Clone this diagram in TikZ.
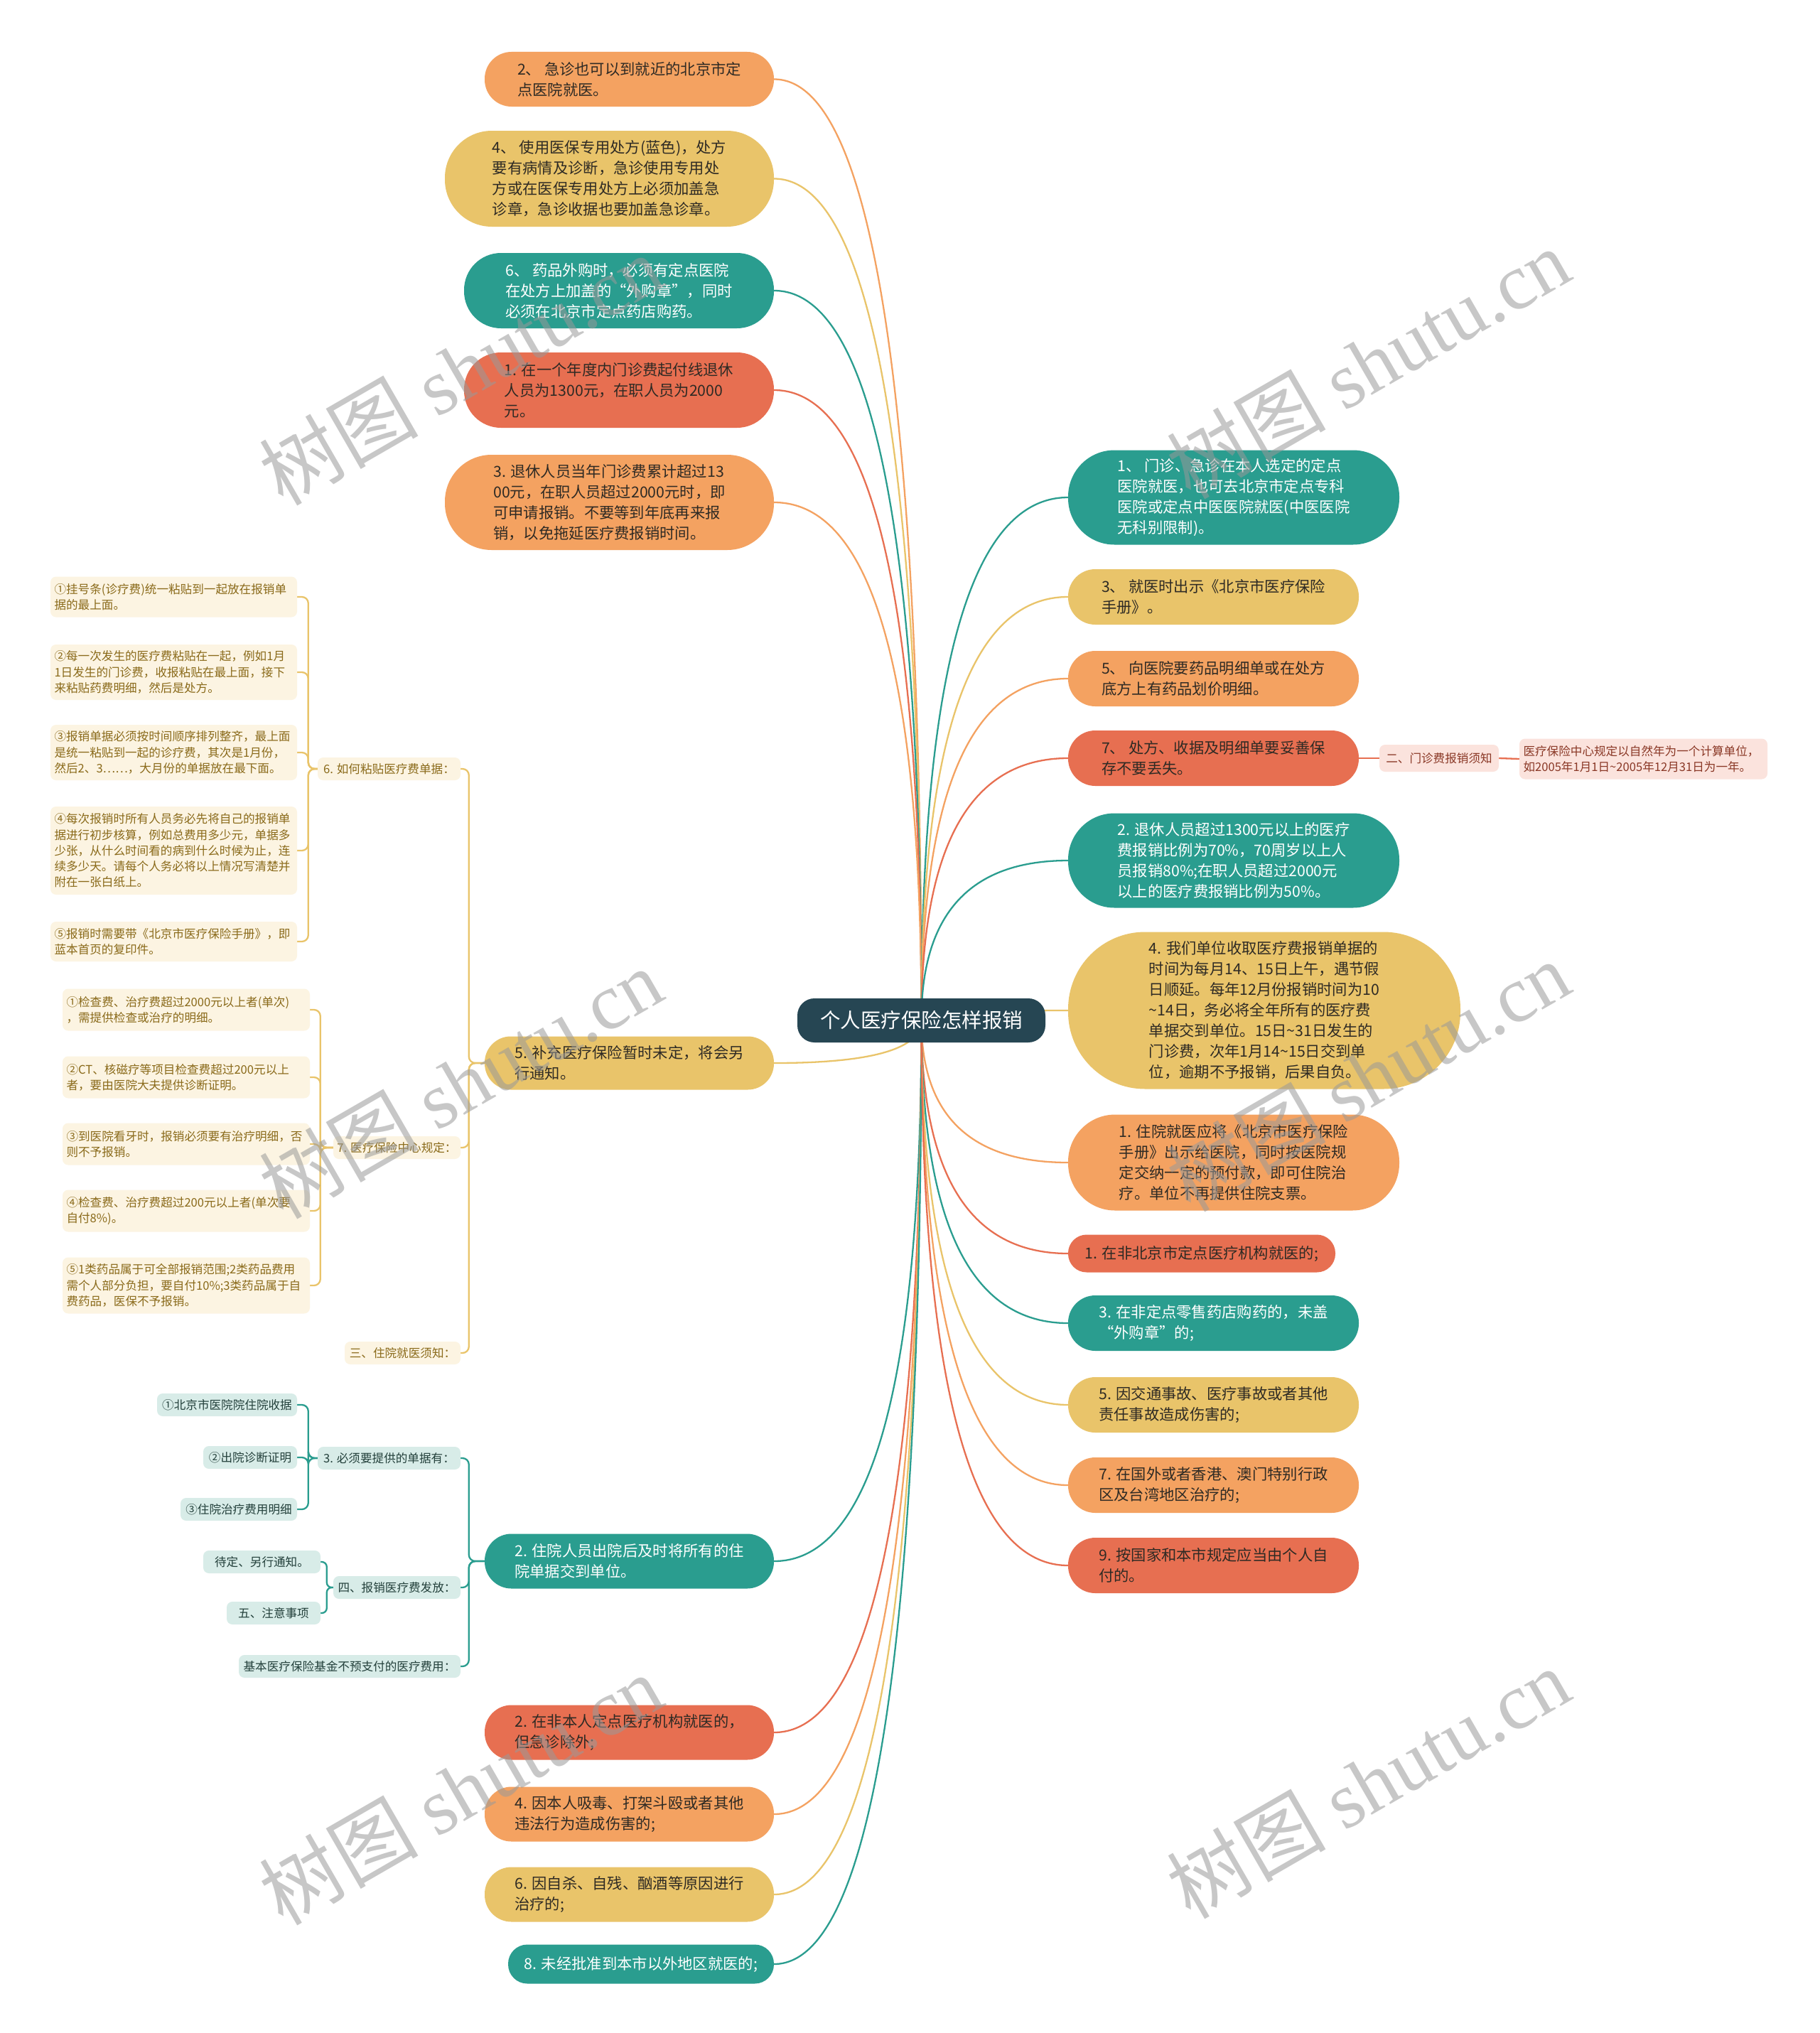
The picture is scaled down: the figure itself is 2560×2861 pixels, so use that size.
\documentclass[tikz,border=0pt]{standalone}
\usepackage{fontspec}
\setmainfont{Noto Sans CJK SC}
\newfontfamily\wmserif{Liberation Serif}
\usetikzlibrary{calc}
\pgfdeclarelayer{bg}
\pgfdeclarelayer{lines}
\pgfsetlayers{bg,lines,main}
\definecolor{cteal}{HTML}{2A9D8F}
\definecolor{cyel}{HTML}{E9C46A}
\definecolor{corg}{HTML}{F4A261}
\definecolor{cred}{HTML}{E76F51}
\definecolor{croot}{HTML}{264653}
\definecolor{ctxt}{HTML}{2E2A24}
\definecolor{cream}{HTML}{FCF4E2}
\definecolor{creamtxt}{HTML}{8A6A1A}
\definecolor{lteal}{HTML}{D8ECE8}
\definecolor{ltealtxt}{HTML}{23403B}
\definecolor{lpink}{HTML}{FBE3DD}
\definecolor{lpinktxt}{HTML}{8A3826}
\tikzset{
  mnode/.style={inner sep=0pt, align=left, text=ctxt, font=\fontsize{21.3}{29}\selectfont},
  ndteal/.style={mnode, fill=cteal, text=white},
  ndyel/.style={mnode, fill=cyel},
  ndorg/.style={mnode, fill=corg},
  ndred/.style={mnode, fill=cred},
  sz/.style 2 args={minimum width=#1, minimum height=#2, rounded corners={#2*0.49}},
  snode/.style={inner sep=0pt, rounded corners=8, font=\fontsize{16.6}{22.3}\selectfont},
  cnode/.style={snode, fill=cream, text=creamtxt},
  tnode/.style={snode, fill=lteal, text=ltealtxt},
  pnode/.style={snode, fill=lpink, text=lpinktxt},
  wbox/.style={align=left, text width=#1, inner xsep=5.5pt, inner ysep=0pt},
  mline/.style={line width=2.3pt, to path={let \p1=(\tikztostart), \p2=(\tikztotarget) in
     .. controls (\x1,{\y1+0.667*(\y2-\y1)}) and ({\x2+0.667*(\x1-\x2)},\y2) .. (\tikztotarget)}},
  subl/.style={line width=2.3pt, rounded corners=9},
  wm/.style={rotate=30, text=black!40, opacity=0.55, font=\fontsize{112}{112}\selectfont}
}
\begin{document}
\begin{tikzpicture}[x=1pt,y=-1pt]
\useasboundingbox (0,0) rectangle (2560,2861);
\begin{pgfonlayer}{bg}
\fill[white] (0,0) rectangle (2560,2861);
\end{pgfonlayer}

% root
\node[fill=croot, text=white, inner sep=0pt, minimum width=349, minimum height=62, rounded corners=24,
      font=\fontsize{28.5}{34}\selectfont] (root) at (1296.5,1436) {个人医疗保险怎样报销};

% left main nodes
\node[ndorg, sz={407}{77}] (L1) at (885.5,111.5) {2、 急诊也可以到就近的北京市定\\点医院就医。};
\node[ndyel, sz={463}{135}] (L2) at (857.5,251.5) {4、 使用医保专用处方(蓝色)，处方\\要有病情及诊断，急诊使用专用处\\方或在医保专用处方上必须加盖急\\诊章，急诊收据也要加盖急诊章。};
\node[ndteal, sz={436}{106}] (L3) at (871,409) {6、 药品外购时，必须有定点医院\\在处方上加盖的“外购章”，同时\\必须在北京市定点药店购药。};
\node[ndred, sz={436}{106}] (L4) at (871,549) {1. 在一个年度内门诊费起付线退休\\人员为1300元，在职人员为2000\\元。};
\node[ndorg, sz={463}{134}] (L5) at (857.5,707) {3. 退休人员当年门诊费累计超过13\\00元，在职人员超过2000元时，即\\可申请报销。不要等到年底再来报\\销，以免拖延医疗费报销时间。};
\node[ndyel, sz={407}{75}] (L6) at (885.5,1496) {5. 补充医疗保险暂时未定，将会另\\行通知。};
\node[ndteal, sz={407}{77}] (L7) at (885.5,2197) {2. 住院人员出院后及时将所有的住\\院单据交到单位。};
\node[ndred, sz={407}{77}] (L8) at (885.5,2438) {2. 在非本人定点医疗机构就医的，\\但急诊除外;};
\node[ndorg, sz={407}{77}] (L9) at (885.5,2553) {4. 因本人吸毒、打架斗殴或者其他\\违法行为造成伤害的;};
\node[ndyel, sz={407}{77}] (L10) at (885.5,2666) {6. 因自杀、自残、酗酒等原因进行\\治疗的;};
\node[ndteal, sz={374}{55}] (L11) at (902,2764) {8. 未经批准到本市以外地区就医的;};

% right main nodes
\node[ndteal, sz={466}{133}] (R1) at (1736,700) {1、 门诊、急诊在本人选定的定点\\医院就医，也可去北京市定点专科\\医院或定点中医医院就医(中医医院\\无科别限制)。};
\node[ndyel, sz={409}{78}] (R2) at (1707.5,840) {3、 就医时出示《北京市医疗保险\\手册》。};
\node[ndorg, sz={409}{78}] (R3) at (1707.5,955) {5、 向医院要药品明细单或在处方\\底方上有药品划价明细。};
\node[ndred, sz={409}{78}] (R4) at (1707.5,1067) {7、 处方、收据及明细单要妥善保\\存不要丢失。};
\node[ndteal, sz={466}{133}] (R5) at (1736,1211) {2. 退休人员超过1300元以上的医疗\\费报销比例为70\%，70周岁以上人\\员报销80\%;在职人员超过2000元\\以上的医疗费报销比例为50\%。};
\node[ndyel, sz={552}{221}] (R6) at (1779,1422) {4. 我们单位收取医疗费报销单据的\\时间为每月14、15日上午，遇节假\\日顺延。每年12月份报销时间为10\\\textasciitilde 14日，务必将全年所有的医疗费\\单据交到单位。15日\textasciitilde 31日发生的\\门诊费，次年1月14\textasciitilde 15日交到单\\位，逾期不予报销，后果自负。};
\node[ndorg, sz={466}{135}] (R7) at (1736,1636) {1. 住院就医应将《北京市医疗保险\\手册》出示给医院，同时按医院规\\定交纳一定的预付款，即可住院治\\疗。单位不再提供住院支票。};
\node[ndred, sz={376}{53}] (R8) at (1691,1764) {1. 在非北京市定点医疗机构就医的;};
\node[ndteal, sz={409}{78}] (R9) at (1707.5,1862) {3. 在非定点零售药店购药的，未盖\\“外购章”的;};
\node[ndyel, sz={409}{78}] (R10) at (1707.5,1977) {5. 因交通事故、医疗事故或者其他\\责任事故造成伤害的;};
\node[ndorg, sz={409}{78}] (R11) at (1707.5,2090) {7. 在国外或者香港、澳门特别行政\\区及台湾地区治疗的;};
\node[ndred, sz={409}{78}] (R12) at (1707.5,2203) {9. 按国家和本市规定应当由个人自\\付的。};

% pink branch
\node[pnode, minimum width=168, minimum height=38] (P1) at (2025,1067) {二、门诊费报销须知};
\node[pnode, wbox=338, minimum height=57] (P2) at (2312.5,1068) {医疗保险中心规定以自然年为一个计算单位，\\如2005年1月1日\textasciitilde 2005年12月31日为一年。};

% cream branch
\node[cnode, minimum width=201, minimum height=32] (S6) at (547.5,1082) {6. 如何粘贴医疗费单据：};
\node[cnode, minimum width=179, minimum height=32] (S7) at (558.5,1615) {7. 医疗保险中心规定：};
\node[cnode, minimum width=163, minimum height=32] (S3) at (566.5,1904) {三、住院就医须知：};
\node[cnode, wbox=336, minimum height=57] (C1) at (244.5,840) {①挂号条(诊疗费)统一粘贴到一起放在报销单\\据的最上面。};
\node[cnode, wbox=336, minimum height=78] (C2) at (244.5,946) {②每一次发生的医疗费粘贴在一起，例如1月\\1日发生的门诊费，收报粘贴在最上面，接下\\来粘贴药费明细，然后是处方。};
\node[cnode, wbox=336, minimum height=78] (C3) at (244.5,1059) {③报销单据必须按时间顺序排列整齐，最上面\\是统一粘贴到一起的诊疗费，其次是1月份，\\然后2、3……，大月份的单据放在最下面。};
\node[cnode, wbox=336, minimum height=124] (C4) at (244.5,1197) {④每次报销时所有人员务必先将自己的报销单\\据进行初步核算，例如总费用多少元，单据多\\少张，从什么时间看的病到什么时候为止，连\\续多少天。请每个人务必将以上情况写清楚并\\附在一张白纸上。};
\node[cnode, wbox=336, minimum height=56] (C5) at (244.5,1325) {⑤报销时需要带《北京市医疗保险手册》，即\\蓝本首页的复印件。};
\node[cnode, wbox=337, minimum height=59] (D1) at (262,1421) {①检查费、治疗费超过2000元以上者(单次)\\，需提供检查或治疗的明细。};
\node[cnode, wbox=337, minimum height=59] (D2) at (262,1516) {②CT、核磁疗等项目检查费超过200元以上\\者，要由医院大夫提供诊断证明。};
\node[cnode, wbox=337, minimum height=59] (D3) at (262,1610) {③到医院看牙时，报销必须要有治疗明细，否\\则不予报销。};
\node[cnode, wbox=337, minimum height=59] (D4) at (262,1704) {④检查费、治疗费超过200元以上者(单次要\\自付8\%)。};
\node[cnode, wbox=337, minimum height=79] (D5) at (262,1809) {⑤1类药品属于可全部报销范围;2类药品费用\\需个人部分负担，要自付10\%;3类药品属于自\\费药品，医保不予报销。};

% teal branch
\node[tnode, minimum width=201, minimum height=32] (T1) at (547.5,2052) {3. 必须要提供的单据有：};
\node[tnode, minimum width=179, minimum height=32] (T2) at (558.5,2234) {四、报销医疗费发放：};
\node[tnode, minimum width=312, minimum height=32] (T3) at (492,2345) {基本医疗保险基金不预支付的医疗费用：};
\node[tnode, minimum width=197, minimum height=32] (T11) at (319.5,1977) {①北京市医院院住院收据};
\node[tnode, minimum width=132, minimum height=32] (T12) at (352,2051) {②出院诊断证明};
\node[tnode, minimum width=164, minimum height=32] (T13) at (336,2124) {③住院治疗费用明细};
\node[tnode, minimum width=165, minimum height=32] (T21) at (368.5,2198) {待定、另行通知。};
\node[tnode, minimum width=132, minimum height=32] (T22) at (385,2270) {五、注意事项};

% connectors
\begin{pgfonlayer}{lines}
\draw[mline, corg] (root.center) to (L1.east);
\draw[mline, cyel] (root.center) to (L2.east);
\draw[mline, cteal] (root.center) to (L3.east);
\draw[mline, cred] (root.center) to (L4.east);
\draw[mline, corg] (root.center) to (L5.east);
\draw[mline, cyel] (root.center) to (L6.east);
\draw[mline, cteal] (root.center) to (L7.east);
\draw[mline, cred] (root.center) to (L8.east);
\draw[mline, corg] (root.center) to (L9.east);
\draw[mline, cyel] (root.center) to (L10.east);
\draw[mline, cteal] (root.center) to (L11.east);
\draw[mline, cteal] (root.center) to (R1.west);
\draw[mline, cyel] (root.center) to (R2.west);
\draw[mline, corg] (root.center) to (R3.west);
\draw[mline, cred] (root.center) to (R4.west);
\draw[mline, cteal] (root.center) to (R5.west);
\draw[mline, cyel] (root.center) to (R6.west);
\draw[mline, corg] (root.center) to (R7.west);
\draw[mline, cred] (root.center) to (R8.west);
\draw[mline, cteal] (root.center) to (R9.west);
\draw[mline, cyel] (root.center) to (R10.west);
\draw[mline, corg] (root.center) to (R11.west);
\draw[mline, cred] (root.center) to (R12.west);
% pink
\draw[line width=2.3pt, cred] (R4.east) -- (P1.west);
\draw[line width=2.3pt, cred] (P1.east) -- (P2.west);
% cream
\foreach \c in {S6,S7,S3} \draw[subl, cyel] (L6.west) -- ++(-22,0) |- (\c.east);
\foreach \c in {C1,C2,C3,C4,C5} \draw[subl, cyel] (S6.west) -- ++(-13,0) |- (\c.east);
\foreach \c in {D1,D2,D3,D4,D5} \draw[subl, cyel] (S7.west) -- ++(-18,0) |- (\c.east);
% teal
\foreach \c in {T1,T2,T3} \draw[subl, cteal] (L7.west) -- ++(-22,0) |- (\c.east);
\foreach \c in {T11,T12,T13} \draw[subl, cteal] (T1.west) -- ++(-13,0) |- (\c.east);
\foreach \c in {T21,T22} \draw[subl, cteal, rounded corners=7] (T2.west) -- ++(-9,0) |- (\c.east);
\end{pgfonlayer}

% watermarks
\node[wm] (W1) at (648,520) {树图 {\wmserif shutu.cn}};
\node[wm] (W2) at (1925,511) {树图 {\wmserif shutu.cn}};
\node[wm] (W3) at (648,1524) {树图 {\wmserif shutu.cn}};
\node[wm] (W4) at (1925,1514) {树图 {\wmserif shutu.cn}};
\node[wm] (W5) at (648,2518) {树图 {\wmserif shutu.cn}};
\node[wm] (W6) at (1925,2509) {树图 {\wmserif shutu.cn}};
\end{tikzpicture}
\end{document}
